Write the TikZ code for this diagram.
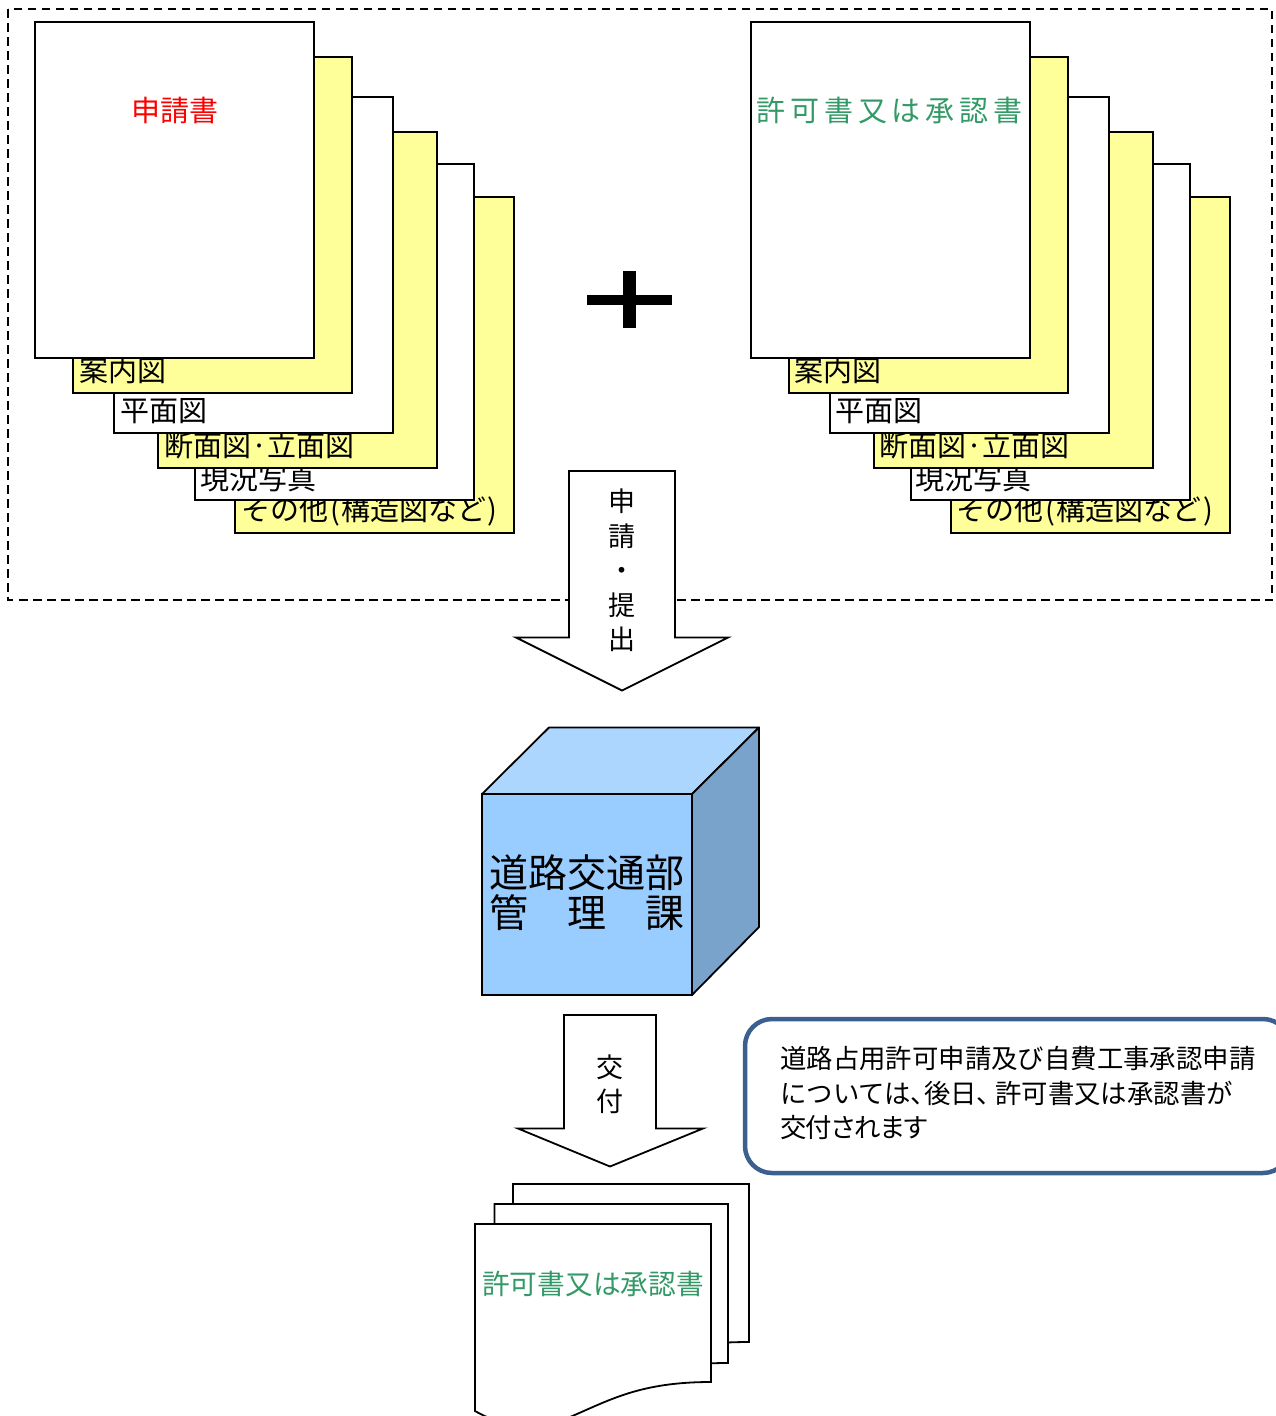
\documentclass[tikz,border=0pt]{standalone}
\usepackage{fontspec}
\setmainfont{Noto Sans CJK JP}
\newfontfamily\spacedfont[LetterSpace=16.5]{Noto Sans CJK JP}
\definecolor{sheetyellow}{HTML}{FFFF99}
\definecolor{permitgreen}{HTML}{339966}
\definecolor{cubefront}{HTML}{99CCFF}
\definecolor{cubetop}{HTML}{ADD6FF}
\definecolor{cubeside}{HTML}{7AA3CC}
\definecolor{noteblue}{HTML}{3B5F8F}
\tikzset{
	whitesheet/.style={draw, rectangle, fill=white, line width=2pt, outer sep=0pt, inner sep=0pt, anchor=north west, minimum width=279pt, minimum height=336pt},
	yellowsheet/.style={whitesheet, fill=sheetyellow},
	sheetlabel/.style={anchor=west, inner sep=0pt, font=\fontsize{29}{29}\selectfont},
	blockarrow/.style={draw, fill=white, line width=1.8pt, line join=miter},
	doc/.style={draw, fill=white, line width=1.8pt},
}
\begin{document}
\begin{tikzpicture}[x=1pt, y=-1pt]
	\useasboundingbox (0,0) rectangle (1275,1416);

	\draw[line width=2pt, dash pattern=on 8.5pt off 5.5pt] (8,9) rectangle (1272,600);

	% left stack
	\node[yellowsheet] (L-05) at (235,197) {};
	\node[sheetlabel] (L-T05) at (241,511.5) {その他\kern2pt(\kern2pt構造図など\kern1pt)};
	\node[whitesheet] (L-04) at (195,164) {};
	\node[sheetlabel] (L-T04) at (200.5,479) {現況写真};
	\node[yellowsheet] (L-03) at (158,132) {};
	\node[sheetlabel] (L-T03) at (164,446) {断面図·立面図};
	\node[whitesheet] (L-02) at (114,97) {};
	\node[sheetlabel] (L-T02) at (120,411) {平面図};
	\node[yellowsheet] (L-01) at (73,57) {};
	\node[sheetlabel] (L-T01) at (79,371) {案内図};
	\node[whitesheet] (L-00) at (35,22) {};
	\node[sheetlabel, anchor=center, text=red] (L-T00) at (174.5,110.5) {申請書};

	% right stack
	\node[yellowsheet] (R-05) at (950.5,197) {};
	\node[sheetlabel] (R-T05) at (956,511.5) {その他\kern2pt(\kern2pt構造図など\kern1pt)};
	\node[whitesheet] (R-04) at (910.5,164) {};
	\node[sheetlabel] (R-T04) at (915.5,479) {現況写真};
	\node[yellowsheet] (R-03) at (873.5,132) {};
	\node[sheetlabel] (R-T03) at (879,446) {断面図·立面図};
	\node[whitesheet] (R-02) at (829.5,97) {};
	\node[sheetlabel] (R-T02) at (835,411) {平面図};
	\node[yellowsheet] (R-01) at (788.5,57) {};
	\node[sheetlabel] (R-T01) at (794,371) {案内図};
	\node[whitesheet] (R-00) at (750.5,22) {};
	\node[sheetlabel, anchor=center, text=permitgreen, font=\fontsize{29}{29}\spacedfont] (R-T00) at (889.5,111) {許可書又は承認書};

	% plus
	\fill (586.5,295) rectangle (671.5,304.5);
	\fill (622.5,270.5) rectangle (636,328);

	% arrows
	\draw[blockarrow] (569,471) -- (675,471) -- (675,637.5) -- (728,637.5) -- (622,690.5) -- (516,637.5) -- (569,637.5) -- cycle;
	\node[align=center, inner sep=0pt, font=\fontsize{27}{34.5}\selectfont] (A-T00) at (622,570.5) {申\\請\\・\\提\\出};

	\draw[blockarrow] (564,1015) -- (656,1015) -- (656,1128.5) -- (703,1128.5) -- (610,1166.5) -- (518,1128.5) -- (564,1128.5) -- cycle;
	\node[align=center, inner sep=0pt, font=\fontsize{27}{34}\selectfont] (A-T01) at (610,1084) {交\\付};

	% cube
	\draw[line width=1.8pt, fill=cubetop, line join=round] (482,794) -- (549,727.5) -- (759,727.5) -- (692,794) -- cycle;
	\draw[line width=1.8pt, fill=cubeside, line join=round] (692,794) -- (759,727.5) -- (759,927) -- (692,995) -- cycle;
	\node[draw, rectangle, fill=cubefront, line width=1.8pt, outer sep=0pt, inner sep=0pt, anchor=north west, minimum width=210pt, minimum height=201pt] (C-00) at (482,794) {};
	\node[align=center, inner sep=0pt, font=\fontsize{39}{40}\selectfont] (C-T00) at (587,892.5) {道路交通部\\管　理　課};

	% note
	\node[draw=noteblue, rectangle, rounded corners=27pt, line width=4.5pt, fill=white, outer sep=0pt, anchor=north west, minimum width=545pt, minimum height=154pt] (N-00) at (745,1019) {};
	\node[anchor=west, align=left, inner sep=0pt, font=\fontsize{26.4}{34.5}\selectfont] (N-T00) at (780,1093) {道路占用許可申請及び自費工事承認申請\\については、\kern-.5em 後日、\kern-.3em 許可書又は承認書が\\{\addfontfeature{RawFeature=+palt,LetterSpace=-2.5}交付されます}};

	% documents
	\draw[doc] (513,1184) -- (749,1184) -- (749,1342) .. controls (690,1342) and (650,1352) .. (610,1375) .. controls (570,1398) and (540,1390) .. (513,1372) -- cycle;
	\draw[doc] (494.5,1204) -- (728,1204) -- (728,1363) .. controls (670,1363) and (630,1373) .. (590,1396) .. controls (550,1419) and (520,1411) .. (494.5,1393) -- cycle;
	\draw[doc] (475,1224) -- (711,1224) -- (711,1382) .. controls (640,1382) and (610,1400) .. (570,1417) .. controls (530,1434) and (500,1425) .. (475,1411) -- cycle;
	\node[inner sep=0pt, text=permitgreen, font=\fontsize{27.7}{28}\selectfont] (D-T00) at (593,1284) {許可書又は承認書};
\end{tikzpicture}
\end{document}
